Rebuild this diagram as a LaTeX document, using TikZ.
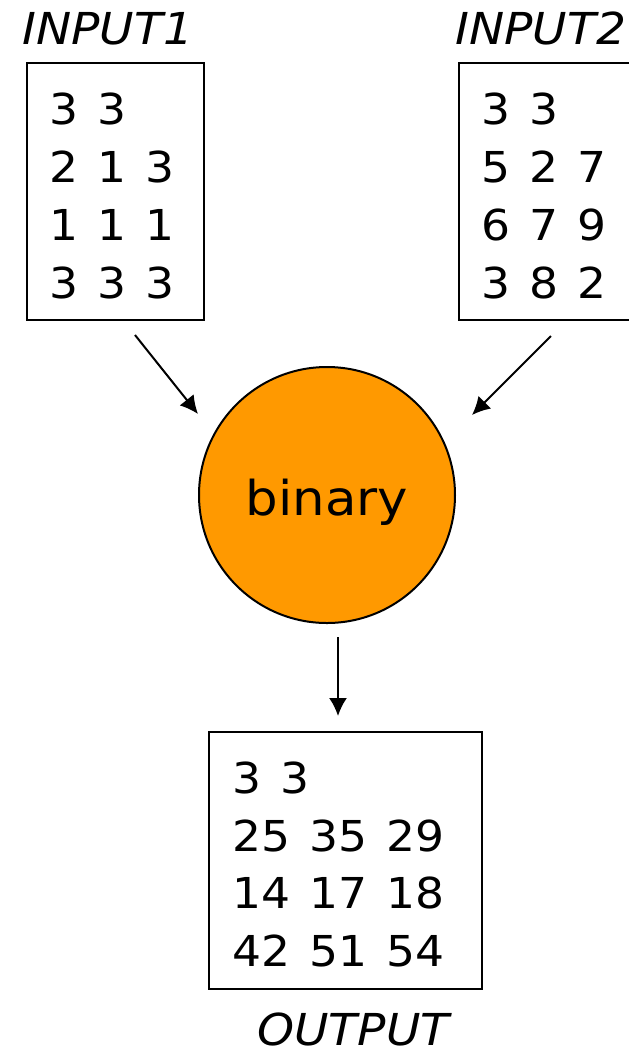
\documentclass[tikz,border=0pt]{standalone}
\usepackage{fontspec}
\setmainfont{DejaVu Sans}[FakeStretch=1.07, WordSpace=1.3]
\usetikzlibrary{arrows.meta}

\tikzset{
  matbox/.style={draw, line width=1pt, minimum width=88.5pt, minimum height=128.5pt, inner sep=0pt},
  matrows/.style={align=left, inner sep=0pt, anchor=base west, font=\fontsize{21.3}{29}\selectfont},
  caption/.style={inner sep=0pt, text depth=0pt, anchor=base west, font=\fontsize{22}{26}\selectfont\itshape},
  conn/.style={line width=1pt, -{Latex[length=9pt, width=9pt]}}
}

\begin{document}
\begin{tikzpicture}[x=0.5pt, y=-0.5pt]
	\useasboundingbox (0,0) rectangle (628,1051);

	% matrices (rows placed by the baseline of their last line)
	\node [matbox] (in1) at (115.5,191.5) {};
	\node [matbox] (in2) at (547.5,191.5) {};
	\node [matbox, minimum width=136.5pt] (out) at (345.5,860) {};

	\node [matrows] (in1rows) at (49,298) {3 3\\2 1 3\\1 1 1\\3 3 3};
	\node [matrows] (in2rows) at (481,298) {3 3\\5 2 7\\6 7 9\\3 8 2};
	\node [matrows, font=\fontsize{21.3}{28.7}\selectfont] (outrows) at (232,966) {3 3\\25 35 29\\14 17 18\\42 51 54};

	\node [caption] (in1cap) at (22,44) {INPUT1};
	\node [caption] (in2cap) at (455,44) {INPUT2};
	\node [caption] (outcap) at (257,1045) {OUTPUT};

	% operator
	\node [circle, draw, line width=1pt, fill={rgb,255:red,255;green,153;blue,0},
	       minimum size=128pt, inner sep=0pt, text height=20pt, text depth=0pt,
	       font=\fontsize{24}{28}\selectfont] (op) at (327,495) {binary};

	% arrows
	\coordinate (a1s) at (135,335);
	\coordinate (a1e) at (198,414);
	\coordinate (a2s) at (551,336);
	\coordinate (a2e) at (472,415);
	\coordinate (a3s) at (338,637);
	\coordinate (a3e) at (338,716);
	\draw [conn] (a1s) -- (a1e);
	\draw [conn] (a2s) -- (a2e);
	\draw [conn] (a3s) -- (a3e);
\end{tikzpicture}
\end{document}
